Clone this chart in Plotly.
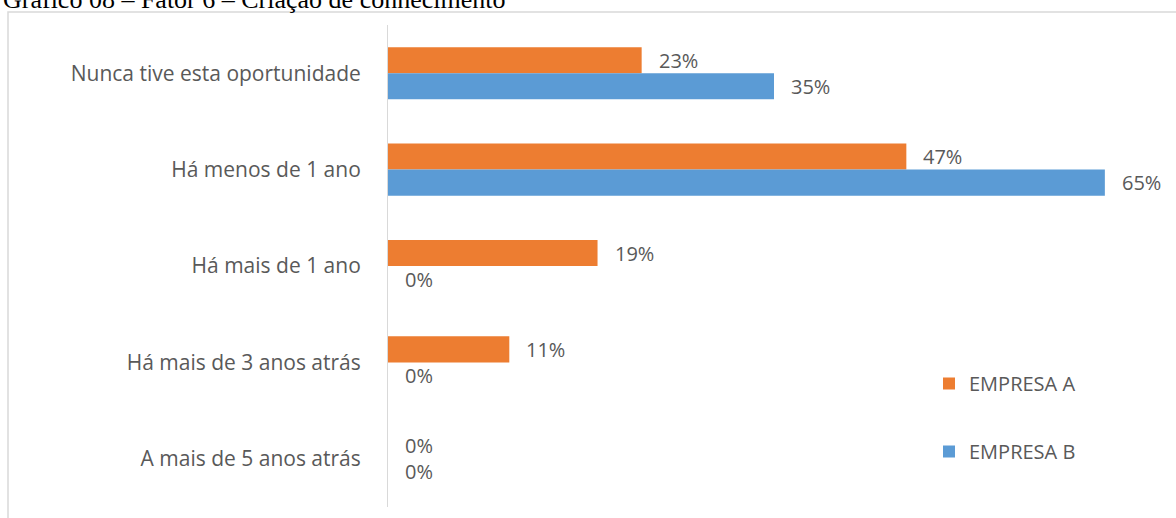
import plotly.graph_objects as go

categories = ["Nunca tive esta oportunidade", "Há menos de 1 ano", "Há mais de 1 ano",
              "Há mais de 3 anos atrás", "A mais de 5 anos atrás"]
empresa_a = [23, 47, 19, 11, 0]
empresa_b = [35, 65, 0, 0, 0]
series_names = ["EMPRESA A", "EMPRESA B"]
colors = ["#ED7D31", "#5B9BD5"]
title_text = "Gráfico 08 – Fator 6 – Criação de conhecimento"

W, H = 1176, 518
ML, MR, MT, MB = 388, 16, 25, 11
PW, PH = W - ML - MR, H - MT - MB

def px_x(p):
    return (p - ML) / PW

def px_y(p):
    return (H - MB - p) / PH

font_fam = "Open Sans, Liberation Sans, sans-serif"
gray = "#595959"

fig = go.Figure()
for name, vals, col, grp in zip(series_names, [empresa_a, empresa_b], colors, ["a", "b"]):
    fig.add_trace(go.Bar(
        y=categories, x=vals, name=name, orientation="h",
        marker=dict(color=col, line=dict(width=0)),
        legendgroup=grp, hoverinfo="skip",
    ))

annotations = []
for vals, shift in zip([empresa_a, empresa_b], [13, -13]):
    for cat, v in zip(categories, vals):
        annotations.append(dict(
            x=v, y=cat, xref="x", yref="y", text=f"{v}%", showarrow=False,
            xanchor="left", yanchor="middle", xshift=15, yshift=shift,
            font=dict(family=font_fam, size=20, color=gray),
        ))

annotations.append(dict(
    x=px_x(1), y=1, xref="paper", yref="paper", text=title_text, showarrow=False,
    xanchor="left", yanchor="bottom", yshift=9,
    font=dict(family="Liberation Serif, Times New Roman, serif", size=26, color="#000000"),
))

fig.update_layout(
    width=W, height=H,
    margin=dict(l=ML, r=MR, t=MT, b=MB, pad=0),
    paper_bgcolor="white", plot_bgcolor="white",
    barmode="group", bargap=0.46, bargroupgap=0,
    xaxis=dict(range=[0, 70], visible=False, showgrid=False, zeroline=False, fixedrange=True),
    yaxis=dict(autorange="reversed", showline=True, linecolor="#D9D9D9", linewidth=1,
               showgrid=False, ticks="", ticklabelstandoff=22,
               tickfont=dict(family=font_fam, size=21, color=gray)),
    legend=dict(x=px_x(929), y=px_y(364), xanchor="left", yanchor="top",
                tracegroupgap=39, font=dict(family=font_fam, size=20, color=gray),
                bgcolor="rgba(0,0,0,0)"),
    annotations=annotations,
    shapes=[dict(type="rect", xref="paper", yref="paper",
                 x0=px_x(8), x1=px_x(1190), y0=px_y(540), y1=px_y(12),
                 line=dict(color="#D9D9D9", width=1.5), fillcolor="rgba(0,0,0,0)", layer="below")],
    showlegend=True,
)

fig.write_html("out.html")
